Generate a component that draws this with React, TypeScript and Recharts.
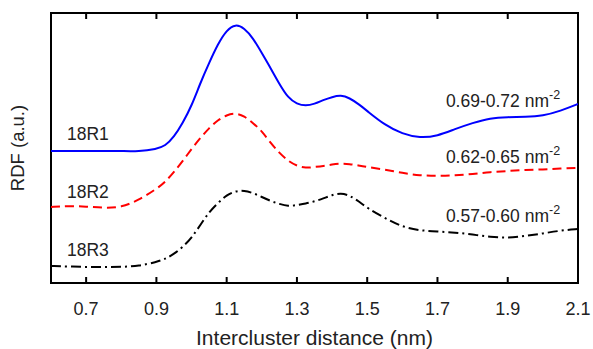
import React from "react";
import {
  Label,
  Line,
  LineChart,
  ReferenceArea,
  ReferenceDot,
  ReferenceLine,
  XAxis,
  YAxis,
} from "recharts";

const distance = [
  0.6, 0.65, 0.7, 0.75, 0.8, 0.85, 0.9, 0.925, 0.95, 0.975, 1.0, 1.025, 1.05,
  1.075, 1.1, 1.125, 1.15, 1.175, 1.2, 1.225, 1.25, 1.275, 1.3, 1.325, 1.35,
  1.375, 1.4, 1.425, 1.45, 1.475, 1.5, 1.55, 1.6, 1.65, 1.7, 1.75, 1.8, 1.85,
  1.9, 1.95, 2.0, 2.05, 2.1,
];

// RDF, arbitrary units (curves are offset vertically)
const r1 = [
  132, 132, 132, 132, 132, 131.5, 134, 137, 146, 160, 177, 200, 220, 239, 253,
  259, 255, 245, 230, 215, 199, 185, 179, 177, 179, 183, 186, 188, 185, 179,
  172, 158, 149, 145, 147, 154, 160, 165, 166, 166, 167, 172, 179,
];
const r2 = [
  76, 77, 76.5, 75, 75.5, 83, 94, 101, 111, 122, 134, 145, 155, 163, 168, 170,
  167, 160, 152, 140, 130, 122, 117, 115, 116, 117, 118.5, 119.5, 119, 117.5,
  116, 113.5, 110, 107.5, 107, 107.5, 109, 111, 112, 113, 113.5, 114.5, 115,
];
const r3 = [
  17, 16.5, 16, 16, 16, 17, 21, 24, 29, 36, 45, 58, 71, 80, 88, 92, 92.5, 90,
  86, 82, 79, 76.5, 78, 79.5, 81.5, 84.5, 88, 90, 87.5, 82, 75, 65, 56, 52.5,
  51.5, 50.5, 48.5, 46, 45, 47, 49.5, 52.5, 54,
];

const xTicks = [0.7, 0.9, 1.1, 1.3, 1.5, 1.7, 1.9, 2.1];
const yMin = 0;
const yMax = 270;
const tickLen = 6;

const sampleNames = ["18R1", "18R2", "18R3"];
const densities = ["0.69-0.72", "0.62-0.65", "0.57-0.60"];
const nameLabelY = [143, 85, 27];
const densityLabelY = [176, 120, 61];

const rows = distance.map((x, i) => ({ x, r1: r1[i], r2: r2[i], r3: r3[i] }));

const FONT = "'Liberation Sans', Arial, Helvetica, sans-serif";
const INK = "#222";

const BottomTick = (props: any) => {
  const { x, y, payload } = props;
  return (
    <text
      x={x}
      y={y + 32}
      textAnchor="middle"
      fill={INK}
      fontSize={18}
      fontFamily={FONT}
    >
      {Number(payload.value).toFixed(1)}
    </text>
  );
};

const nameLabel = (text: string) => (props: any) => {
  const { viewBox } = props;
  return (
    <text x={viewBox.x} y={viewBox.y} fill={INK} fontSize={17.5} fontFamily={FONT}>
      {text}
    </text>
  );
};

const densityLabel = (text: string) => (props: any) => {
  const { viewBox } = props;
  return (
    <text x={viewBox.x} y={viewBox.y} fill={INK} fontSize={17.5} fontFamily={FONT}>
      {text} nm
      <tspan dy={-8} fontSize={12.5}>
        -2
      </tspan>
    </text>
  );
};

export default function App() {
  const lineColors = ["#0000ff", "#ff0000", "#000000"];
  return (
    <div style={{ position: "absolute", left: 0, top: 0, width: 593, height: 349 }}>
      <LineChart
        width={593}
        height={349}
        data={rows}
        margin={{ top: 13, right: 15, bottom: 0, left: 0 }}
      >
        <XAxis
          dataKey="x"
          type="number"
          domain={[0.6, 2.1]}
          ticks={xTicks}
          allowDataOverflow
          height={66}
          tickSize={0}
          tickMargin={0}
          tickLine={false}
          tick={<BottomTick />}
          axisLine={false}
        >
          <Label
            content={({ viewBox }: any) => (
              <text
                x={viewBox.x + viewBox.width / 2}
                y={viewBox.y + 62}
                textAnchor="middle"
                fill={INK}
                fontSize={21}
                fontFamily={FONT}
              >
                Intercluster distance (nm)
              </text>
            )}
          />
        </XAxis>
        <YAxis
          type="number"
          domain={[yMin, yMax]}
          allowDataOverflow
          width={51}
          tick={false}
          tickLine={false}
          axisLine={false}
        >
          <Label
            content={({ viewBox }: any) => (
              <text
                transform={`translate(${viewBox.x + 24}, ${viewBox.y + viewBox.height / 2}) rotate(-90)`}
                textAnchor="middle"
                fill={INK}
                fontSize={18.5}
                fontFamily={FONT}
              >
                RDF (a.u.)
              </text>
            )}
          />
        </YAxis>
        <Line
          dataKey="r1"
          type="basis"
          stroke={lineColors[0]}
          strokeWidth={2}
          dot={false}
          isAnimationActive={false}
        />
        <Line
          dataKey="r2"
          type="basis"
          stroke={lineColors[1]}
          strokeWidth={2}
          strokeDasharray="9 5"
          dot={false}
          isAnimationActive={false}
        />
        <Line
          dataKey="r3"
          type="basis"
          stroke={lineColors[2]}
          strokeWidth={2}
          strokeDasharray="10 4 2 4"
          dot={false}
          isAnimationActive={false}
        />
        {xTicks.map((t) => (
          <ReferenceLine
            key={`b${t}`}
            segment={[
              { x: t, y: yMin },
              { x: t, y: yMin + tickLen },
            ]}
            stroke="#000"
            strokeWidth={2}
            ifOverflow="visible"
          />
        ))}
        {xTicks.map((t) => (
          <ReferenceLine
            key={`t${t}`}
            segment={[
              { x: t, y: yMax - tickLen },
              { x: t, y: yMax },
            ]}
            stroke="#000"
            strokeWidth={2}
            ifOverflow="visible"
          />
        ))}
        <ReferenceArea
          x1={0.6}
          x2={2.1}
          y1={yMin}
          y2={yMax}
          fill="none"
          fillOpacity={0}
          stroke="#000"
          strokeOpacity={1}
          strokeWidth={2}
          ifOverflow="visible"
        />
        {sampleNames.map((name, i) => (
          <ReferenceDot
            key={name}
            x={0.6455}
            y={nameLabelY[i]}
            r={0}
            stroke="none"
            label={nameLabel(name)}
          />
        ))}
        {densities.map((d, i) => (
          <ReferenceDot
            key={d}
            x={1.724}
            y={densityLabelY[i]}
            r={0}
            stroke="none"
            label={densityLabel(d)}
          />
        ))}
      </LineChart>
    </div>
  );
}
